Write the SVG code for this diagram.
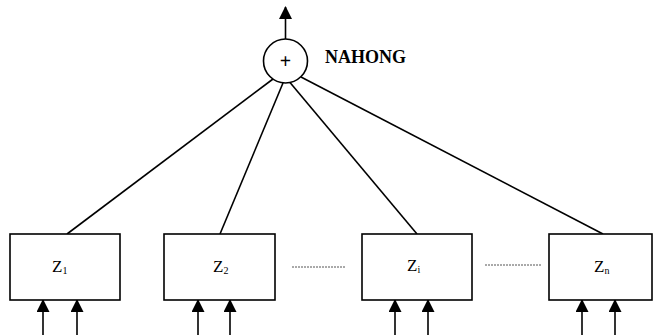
<svg xmlns="http://www.w3.org/2000/svg" width="654" height="335" viewBox="0 0 654 335">
<style>
.box{fill:#fff;stroke:#000;stroke-width:1.6}
.ln{stroke:#000;stroke-width:1.6;fill:none}
.dot{stroke:#555;stroke-width:1;stroke-dasharray:2 1;fill:none}
.lbl{font-family:"Liberation Serif",serif;font-size:17px;fill:#000}
.sub{font-size:10px}
</style>
<defs>
<marker id="ah" markerWidth="13" markerHeight="13" refX="12" refY="6.5" orient="auto" markerUnits="userSpaceOnUse" viewBox="0 0 13 13">
<path d="M0,0 L13,6.5 L0,13 Z" fill="#000"/>
</marker>
</defs>
<g id="connectors">
<line class="ln" x1="285.5" y1="39" x2="285.5" y2="7" marker-end="url(#ah)"/>
<line class="ln" x1="273" y1="79" x2="67" y2="234"/>
<line class="ln" x1="283" y1="83" x2="220" y2="234"/>
<line class="ln" x1="290" y1="82.5" x2="417" y2="234"/>
<line class="ln" x1="301" y1="77" x2="603" y2="234"/>
<line class="dot" x1="292" y1="267" x2="346" y2="267"/>
<line class="dot" x1="485" y1="265" x2="541" y2="265"/>
<line class="ln" x1="43" y1="335" x2="43" y2="300" marker-end="url(#ah)"/>
<line class="ln" x1="77" y1="335" x2="77" y2="300" marker-end="url(#ah)"/>
<line class="ln" x1="198" y1="335" x2="198" y2="300" marker-end="url(#ah)"/>
<line class="ln" x1="230" y1="335" x2="230" y2="300" marker-end="url(#ah)"/>
<line class="ln" x1="395" y1="335" x2="395" y2="300" marker-end="url(#ah)"/>
<line class="ln" x1="428" y1="335" x2="428" y2="300" marker-end="url(#ah)"/>
<line class="ln" x1="582" y1="335" x2="582" y2="300" marker-end="url(#ah)"/>
<line class="ln" x1="615" y1="335" x2="615" y2="300" marker-end="url(#ah)"/>
</g>
<g id="sum">
<circle cx="285.5" cy="61" r="22" fill="#fff" stroke="#000" stroke-width="1.6"/>
<text x="285.5" y="68" text-anchor="middle" font-family="Liberation Serif,serif" font-size="20" font-weight="bold">+</text>
<text x="325" y="63" font-family="Liberation Serif,serif" font-size="18" font-weight="bold">NAHONG</text>
</g>
<g id="z1">
<rect class="box" x="10" y="234" width="110" height="66"/>
<text class="lbl" x="52" y="272">Z<tspan class="sub" dy="2">1</tspan></text>
</g>
<g id="z2">
<rect class="box" x="164" y="234" width="111" height="66"/>
<text class="lbl" x="213" y="272">Z<tspan class="sub" dy="2">2</tspan></text>
</g>
<g id="zi">
<rect class="box" x="362" y="234" width="110" height="66"/>
<text class="lbl" x="407" y="271">Z<tspan class="sub" dy="2">i</tspan></text>
</g>
<g id="zn">
<rect class="box" x="549" y="234" width="103" height="66"/>
<text class="lbl" x="594" y="272">Z<tspan class="sub" dy="2">n</tspan></text>
</g>
</svg>
